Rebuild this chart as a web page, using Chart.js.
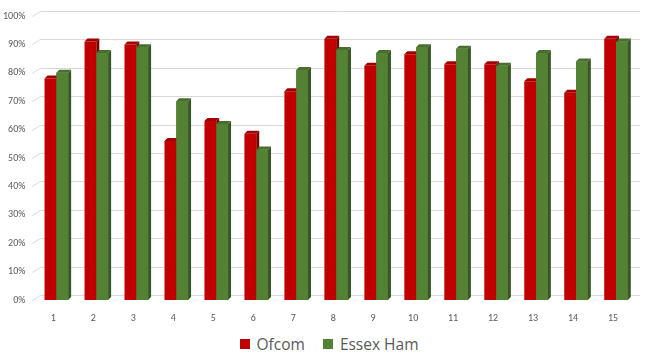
<!DOCTYPE html>
<html>
<head>
<meta charset="utf-8">
<script src="https://cdn.jsdelivr.net/npm/chart.js@4.4.1/dist/chart.umd.min.js"></script>
<style>
  html, body { margin: 0; padding: 0; background: #fff; }
  #wrap { width: 650px; height: 360px; position: relative; }
  #barLegendChart { position: absolute; left: 0; top: 333px; width: 650px; height: 22px;
      display: flex; justify-content: center; align-items: center; padding-left: 8px; box-sizing: border-box;
      font-family: "Open Sans", sans-serif; font-size: 15.5px; color: #595959; }
  #barLegendChart span.item { display: flex; align-items: center; margin: 0 9px; }
  #barLegendChart span.box { width: 10px; height: 10px; margin-right: 7px; display: inline-block; }
</style>
</head>
<body>
<div id="wrap">
  <canvas id="chartBar" width="650" height="328"></canvas>
  <div id="barLegendChart"></div>
</div>
<script>
// data
var categories = ["1", "2", "3", "4", "5", "6", "7", "8", "9", "10", "11", "12", "13", "14", "15"];
var ofcom = [78, 91, 90, 56, 63, 58.5, 73.5, 92, 82.5, 86.5, 83, 83, 77, 73, 92];
var essexHam = [80, 87, 89, 70, 62, 53, 81, 88, 87, 89, 88.5, 82.5, 87, 84, 91];
var yTicks = [0, 10, 20, 30, 40, 50, 60, 70, 80, 90, 100];

var sideColors = ["#7a0000", "#385723"];
var topColors = ["#a00000", "#476e2d"];
var DX = 3, DY = 3;

// back wall grid with the little slanted bit at the left
var wallGrid = {
    id: 'wallGrid',
    beforeDatasetsDraw: function (chart) {
        var ctx = chart.ctx;
        var y = chart.scales.y;
        var area = chart.chartArea;
        ctx.save();
        ctx.strokeStyle = '#d9d9d9';
        ctx.lineWidth = 1;
        yTicks.forEach(function (v) {
            var py = Math.round(y.getPixelForValue(v)) + 0.5;
            ctx.beginPath();
            ctx.moveTo(area.left - 4, py);
            ctx.lineTo(area.left + 4, py - 5);
            ctx.lineTo(area.right + 4, py - 5);
            ctx.stroke();
        });
        ctx.restore();
    }
};

function faces(ctx, bar, i) {
    var p = bar.getProps(['x', 'y', 'base', 'width'], true);
    var l = p.x - p.width / 2, r = p.x + p.width / 2;
    ctx.fillStyle = sideColors[i];
    ctx.beginPath();
    ctx.moveTo(r, p.y);
    ctx.lineTo(r + DX, p.y - DY);
    ctx.lineTo(r + DX, p.base - DY);
    ctx.lineTo(r, p.base);
    ctx.closePath();
    ctx.fill();
    ctx.fillStyle = topColors[i];
    ctx.beginPath();
    ctx.moveTo(l, p.y);
    ctx.lineTo(l + DX, p.y - DY);
    ctx.lineTo(r + DX, p.y - DY);
    ctx.lineTo(r, p.y);
    ctx.closePath();
    ctx.fill();
}

// fake 3d: red faces first, then green front + faces on top of them
var bar3d = {
    id: 'bar3d',
    afterDatasetsDraw: function (chart) {
        var ctx = chart.ctx;
        var red = chart.getDatasetMeta(0).data;
        var green = chart.getDatasetMeta(1).data;
        ctx.save();
        red.forEach(function (bar) { faces(ctx, bar, 0); });
        green.forEach(function (bar) {
            bar.draw(ctx);
            faces(ctx, bar, 1);
        });
        ctx.restore();
    }
};

var ctx = document.getElementById("chartBar").getContext('2d');
var chart = new Chart(ctx, {
    type: 'bar',
    data: {
        labels: categories,
        datasets: [{
            label: 'Ofcom',
            data: ofcom,
            backgroundColor: '#c00000'
        }, {
            label: 'Essex Ham',
            data: essexHam,
            backgroundColor: '#548235'
        }]
    },
    options: {
        responsive: false,
        animation: false,
        categoryPercentage: 0.59,
        barPercentage: 1,
        layout: { padding: { left: 0, right: 14, top: 16, bottom: 0 } },
        scales: {
            x: {
                grid: { display: false },
                border: { display: false },
                ticks: {
                    color: '#595959',
                    font: { family: 'Calibri, Carlito, "Liberation Sans", sans-serif', size: 10 },
                    padding: 4,
                    labelOffset: -3
                }
            },
            y: {
                min: 0,
                max: 100,
                grid: { display: false },
                border: { display: false },
                ticks: {
                    stepSize: 10,
                    padding: 3,
                    color: '#595959',
                    font: { family: 'Calibri, Carlito, "Liberation Sans", sans-serif', size: 10 },
                    callback: function (v) { return v + '%'; }
                }
            }
        },
        plugins: {
            legend: { display: false },
            tooltip: { enabled: false }
        }
    },
    plugins: [wallGrid, bar3d]
});

// html legend under the canvas
var myLegendContainer = document.getElementById("barLegendChart");
myLegendContainer.innerHTML = chart.data.datasets.map(function (ds) {
    return '<span class="item"><span class="box" style="background:' + ds.backgroundColor + '"></span>' + ds.label + '</span>';
}).join('');
</script>
</body>
</html>
